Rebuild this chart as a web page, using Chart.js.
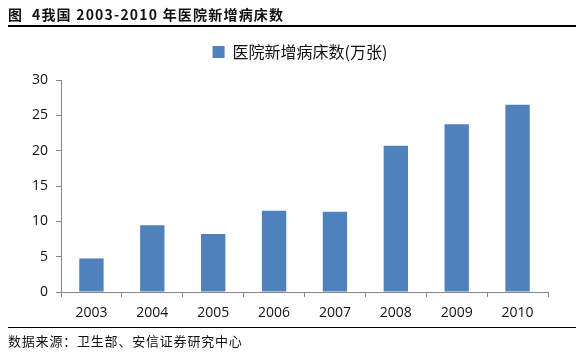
<!DOCTYPE html>
<html>
<head>
<meta charset="utf-8">
<script src="https://cdn.jsdelivr.net/npm/chart.js@4/dist/chart.umd.min.js"></script>
<style>
  html, body { margin: 0; padding: 0; background: #fff; }
  #wrap { position: relative; width: 586px; height: 360px; overflow: hidden; }
  #c { position: absolute; left: 0; top: 0; }
  .title { position: absolute; left: 8px; top: 4px; font-family: "Noto Sans CJK SC"; font-weight: 700; font-size: 14px; letter-spacing: 1.2px; color: #111; white-space: nowrap; }
  .rule { position: absolute; left: 8px; width: 568px; height: 2px; background: #000; }
  .src { position: absolute; left: 8px; top: 331px; font-family: "Noto Sans CJK SC"; font-size: 13px; letter-spacing: 0.8px; color: #111; white-space: nowrap; }
</style>
</head>
<body>
<div id="wrap">
  <canvas id="c" width="586" height="360"></canvas>
  <div class="title">图&nbsp;&nbsp;4我国 2003-2010 年医院新增病床数</div>
  <div class="rule" style="top:25px"></div>
  <div class="rule" style="top:327px;height:1px"></div>
  <div class="src">数据来源：卫生部、安信证券研究中心</div>
</div>
<script>
const categories = ["2003", "2004", "2005", "2006", "2007", "2008", "2009", "2010"];
const seriesName = "医院新增病床数(万张)";
const newBeds = [4.75, 9.45, 8.2, 11.5, 11.35, 20.7, 23.75, 26.5];
const yTicks = [0, 5, 10, 15, 20, 25, 30];

const axisColor = "#868686";
const shiftLegend = {
  id: "shiftLegend",
  afterLayout(chart) {
    if (chart.legend) { chart.legend.left += 26; chart.legend.right += 26; }
  }
};
new Chart(document.getElementById("c"), {
  type: "bar",
  data: {
    labels: categories,
    datasets: [{
      label: seriesName,
      data: newBeds,
      backgroundColor: "#4f81bd",
      borderWidth: 0,
      barPercentage: 0.4,
      categoryPercentage: 1.0
    }]
  },
  plugins: [shiftLegend],
  options: {
    responsive: false,
    animation: false,
    devicePixelRatio: 1,
    layout: { padding: { top: 34, right: 38, left: 0, bottom: 0 } },
    plugins: {
      tooltip: { enabled: false },
      legend: {
        position: "top",
        labels: {
          boxWidth: 12, boxHeight: 12, padding: 10,
          color: "#111",
          font: { family: "'Noto Sans CJK SC'", size: 16 }
        }
      },
      subtitle: {
        display: true, text: " ", position: "top", weight: 500,
        font: { size: 10, lineHeight: 1 }, padding: 0
      }
    },
    scales: {
      x: {
        grid: { display: true, drawOnChartArea: false, drawTicks: true, tickLength: 5, color: axisColor, offset: true },
        border: { color: axisColor, width: 1 },
        ticks: { color: "#111", font: { family: "'Open Sans'", size: 14 }, padding: 8 },
        afterFit: s => { s.height = 68; }
      },
      y: {
        min: 0, max: 30,
        afterBuildTicks: s => { s.ticks = yTicks.map(v => ({ value: v })); },
        grid: { display: true, drawOnChartArea: false, drawTicks: true, tickLength: 5, color: axisColor },
        border: { color: axisColor, width: 1 },
        ticks: { color: "#111", font: { family: "'Open Sans'", size: 14 }, padding: 8 },
        afterFit: s => { s.width = 61; }
      }
    }
  }
});
</script>
</body>
</html>
